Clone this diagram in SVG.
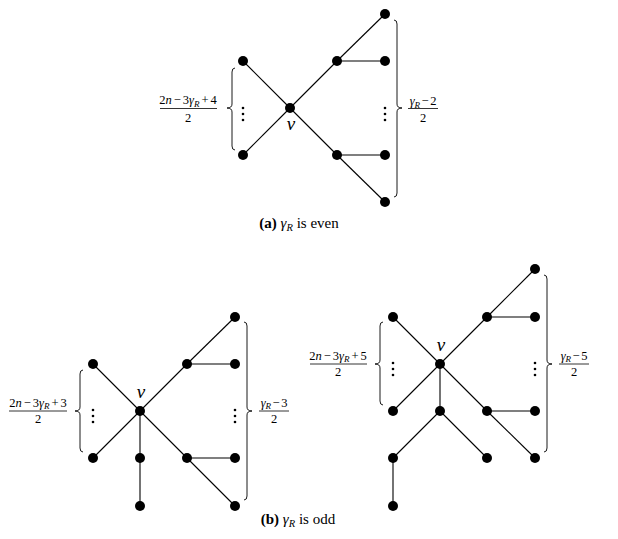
<svg xmlns="http://www.w3.org/2000/svg" width="618" height="539" viewBox="0 0 618 539">
<style>
.e{stroke:#000;stroke-width:1.1;fill:none}
.n{fill:#000}
.d{fill:#000}
.b{stroke:#000;stroke-width:0.9;fill:none}
.fl{stroke:#000;stroke-width:0.8}
text{font-family:"Liberation Serif","Times New Roman",serif;fill:#000}
.m{font-size:12.5px}
.v{font-size:19px;font-style:italic}
.c{font-size:15px}
.i{font-style:italic}
.s{font-style:italic;font-size:9px}
</style>
<rect width="618" height="539" fill="#fff"/>

<!-- ===== (a) ===== -->
<g id="edges-a">
<line class="e" x1="290" y1="108" x2="243" y2="61"/>
<line class="e" x1="290" y1="108" x2="243" y2="155"/>
<line class="e" x1="290" y1="108" x2="337" y2="61"/>
<line class="e" x1="290" y1="108" x2="337" y2="155"/>
<line class="e" x1="337" y1="61" x2="385" y2="14"/>
<line class="e" x1="337" y1="61" x2="385" y2="61"/>
<line class="e" x1="337" y1="155" x2="385" y2="155"/>
<line class="e" x1="337" y1="155" x2="385" y2="202"/>
</g>
<g id="a-v"><circle class="n" cx="290" cy="108" r="5"/><text class="v" x="291" y="130" text-anchor="middle">v</text></g>
<g id="a-l1"><circle class="n" cx="243" cy="61" r="5"/></g>
<g id="a-l2"><circle class="n" cx="243" cy="155" r="5"/></g>
<g id="a-m1"><circle class="n" cx="337" cy="61" r="5"/></g>
<g id="a-m2"><circle class="n" cx="337" cy="155" r="5"/></g>
<g id="a-r1"><circle class="n" cx="385" cy="14" r="5"/></g>
<g id="a-r2"><circle class="n" cx="385" cy="61" r="5"/></g>
<g id="a-r3"><circle class="n" cx="385" cy="155" r="5"/></g>
<g id="a-r4"><circle class="n" cx="385" cy="202" r="5"/></g>
<g id="a-dots">
<circle class="d" cx="243" cy="108" r="1.3"/><circle class="d" cx="243" cy="114" r="1.3"/><circle class="d" cx="243" cy="120" r="1.3"/>
<circle class="d" cx="385" cy="108" r="1.3"/><circle class="d" cx="385" cy="114" r="1.3"/><circle class="d" cx="385" cy="120" r="1.3"/>
</g>
<g id="a-braces">
<path class="b" d="M235,68 Q232,68 232,72 L232,104 Q232,108 227,108 Q232,108 232,112 L232,146 Q232,150 235,150"/>
<path class="b" d="M394,20 Q397,20 397,24 L397,104 Q397,108 402,108 Q397,108 397,112 L397,193 Q397,197 394,197"/>
</g>
<g id="a-labels">
<text class="m" x="188" y="104" text-anchor="middle">2<tspan class="i">n</tspan><tspan dx="2">−</tspan><tspan dx="2">3</tspan><tspan class="i">γ</tspan><tspan class="s" dy="2.5">R</tspan><tspan dy="-2.5" dx="2">+</tspan><tspan dx="2">4</tspan></text>
<line class="fl" x1="160" y1="108.5" x2="217" y2="108.5"/>
<text class="m" x="188" y="122" text-anchor="middle">2</text>
<text class="m" x="423" y="105" text-anchor="middle"><tspan class="i">γ</tspan><tspan class="s" dy="2.5">R</tspan><tspan dy="-2.5" dx="1.5">−</tspan><tspan dx="1.5">2</tspan></text>
<line class="fl" x1="408" y1="108.5" x2="438" y2="108.5"/>
<text class="m" x="423" y="122" text-anchor="middle">2</text>
<text class="c" x="299" y="228" text-anchor="middle"><tspan font-weight="bold">(a)</tspan> <tspan class="i">γ</tspan><tspan class="i" font-size="10.5" dy="3">R</tspan><tspan dy="-3"> is even</tspan></text>
</g>

<!-- ===== (b) left ===== -->
<g id="edges-b1">
<line class="e" x1="140" y1="411" x2="93" y2="364"/>
<line class="e" x1="140" y1="411" x2="93" y2="458"/>
<line class="e" x1="140" y1="411" x2="187" y2="364"/>
<line class="e" x1="140" y1="411" x2="187" y2="458"/>
<line class="e" x1="140" y1="411" x2="140" y2="458"/>
<line class="e" x1="140" y1="458" x2="140" y2="506"/>
<line class="e" x1="187" y1="364" x2="235" y2="317"/>
<line class="e" x1="187" y1="364" x2="235" y2="364"/>
<line class="e" x1="187" y1="458" x2="235" y2="458"/>
<line class="e" x1="187" y1="458" x2="235" y2="506"/>
</g>
<g id="b1-v"><circle class="n" cx="140" cy="411" r="5"/><text class="v" x="141" y="398" text-anchor="middle">v</text></g>
<g id="b1-l1"><circle class="n" cx="93" cy="364" r="5"/></g>
<g id="b1-l2"><circle class="n" cx="93" cy="458" r="5"/></g>
<g id="b1-c1"><circle class="n" cx="140" cy="458" r="5"/></g>
<g id="b1-c2"><circle class="n" cx="140" cy="506" r="5"/></g>
<g id="b1-m1"><circle class="n" cx="187" cy="364" r="5"/></g>
<g id="b1-m2"><circle class="n" cx="187" cy="458" r="5"/></g>
<g id="b1-r1"><circle class="n" cx="235" cy="317" r="5"/></g>
<g id="b1-r2"><circle class="n" cx="235" cy="364" r="5"/></g>
<g id="b1-r3"><circle class="n" cx="235" cy="458" r="5"/></g>
<g id="b1-r4"><circle class="n" cx="235" cy="506" r="5"/></g>
<g id="b1-dots">
<circle class="d" cx="93" cy="410" r="1.3"/><circle class="d" cx="93" cy="416" r="1.3"/><circle class="d" cx="93" cy="422" r="1.3"/>
<circle class="d" cx="235" cy="410" r="1.3"/><circle class="d" cx="235" cy="416" r="1.3"/><circle class="d" cx="235" cy="422" r="1.3"/>
</g>
<g id="b1-braces">
<path class="b" d="M83,370 Q80,370 80,374 L80,407 Q80,411 75,411 Q80,411 80,415 L80,448 Q80,452 83,452"/>
<path class="b" d="M244,322 Q247,322 247,326 L247,407 Q247,411 252,411 Q247,411 247,415 L247,496 Q247,500 244,500"/>
</g>
<g id="b1-labels">
<text class="m" x="38" y="406.5" text-anchor="middle">2<tspan class="i">n</tspan><tspan dx="2">−</tspan><tspan dx="2">3</tspan><tspan class="i">γ</tspan><tspan class="s" dy="2.5">R</tspan><tspan dy="-2.5" dx="2">+</tspan><tspan dx="2">3</tspan></text>
<line class="fl" x1="9" y1="411" x2="67" y2="411"/>
<text class="m" x="38" y="423" text-anchor="middle">2</text>
<text class="m" x="274" y="406.5" text-anchor="middle"><tspan class="i">γ</tspan><tspan class="s" dy="2.5">R</tspan><tspan dy="-2.5" dx="1.5">−</tspan><tspan dx="1.5">3</tspan></text>
<line class="fl" x1="259" y1="411" x2="289" y2="411"/>
<text class="m" x="274" y="423" text-anchor="middle">2</text>
</g>

<!-- ===== (b) right ===== -->
<g id="edges-b2">
<line class="e" x1="440" y1="364" x2="393" y2="317"/>
<line class="e" x1="440" y1="364" x2="393" y2="411"/>
<line class="e" x1="440" y1="364" x2="487" y2="317"/>
<line class="e" x1="440" y1="364" x2="487" y2="411"/>
<line class="e" x1="440" y1="364" x2="440" y2="411"/>
<line class="e" x1="487" y1="317" x2="535" y2="269"/>
<line class="e" x1="487" y1="317" x2="535" y2="317"/>
<line class="e" x1="487" y1="411" x2="535" y2="411"/>
<line class="e" x1="487" y1="411" x2="535" y2="458"/>
<line class="e" x1="440" y1="411" x2="393" y2="458"/>
<line class="e" x1="440" y1="411" x2="487" y2="458"/>
<line class="e" x1="393" y1="458" x2="393" y2="506"/>
</g>
<g id="b2-v"><circle class="n" cx="440" cy="364" r="5"/><text class="v" x="441" y="351" text-anchor="middle">v</text></g>
<g id="b2-l1"><circle class="n" cx="393" cy="317" r="5"/></g>
<g id="b2-l2"><circle class="n" cx="393" cy="411" r="5"/></g>
<g id="b2-c1"><circle class="n" cx="440" cy="411" r="5"/></g>
<g id="b2-c2"><circle class="n" cx="393" cy="458" r="5"/></g>
<g id="b2-c3"><circle class="n" cx="393" cy="506" r="5"/></g>
<g id="b2-c4"><circle class="n" cx="487" cy="458" r="5"/></g>
<g id="b2-m1"><circle class="n" cx="487" cy="317" r="5"/></g>
<g id="b2-m2"><circle class="n" cx="487" cy="411" r="5"/></g>
<g id="b2-r1"><circle class="n" cx="535" cy="269" r="5"/></g>
<g id="b2-r2"><circle class="n" cx="535" cy="317" r="5"/></g>
<g id="b2-r3"><circle class="n" cx="535" cy="411" r="5"/></g>
<g id="b2-r4"><circle class="n" cx="535" cy="458" r="5"/></g>
<g id="b2-dots">
<circle class="d" cx="393" cy="363" r="1.3"/><circle class="d" cx="393" cy="369" r="1.3"/><circle class="d" cx="393" cy="375" r="1.3"/>
<circle class="d" cx="535" cy="363" r="1.3"/><circle class="d" cx="535" cy="369" r="1.3"/><circle class="d" cx="535" cy="375" r="1.3"/>
</g>
<g id="b2-braces">
<path class="b" d="M383,322 Q380,322 380,326 L380,360 Q380,364 375,364 Q380,364 380,368 L380,401 Q380,405 383,405"/>
<path class="b" d="M544,275 Q547,275 547,279 L547,360 Q547,364 552,364 Q547,364 547,368 L547,448 Q547,452 544,452"/>
</g>
<g id="b2-labels">
<text class="m" x="338" y="359.5" text-anchor="middle">2<tspan class="i">n</tspan><tspan dx="2">−</tspan><tspan dx="2">3</tspan><tspan class="i">γ</tspan><tspan class="s" dy="2.5">R</tspan><tspan dy="-2.5" dx="2">+</tspan><tspan dx="2">5</tspan></text>
<line class="fl" x1="310" y1="364" x2="367" y2="364"/>
<text class="m" x="338" y="376" text-anchor="middle">2</text>
<text class="m" x="574" y="359.5" text-anchor="middle"><tspan class="i">γ</tspan><tspan class="s" dy="2.5">R</tspan><tspan dy="-2.5" dx="1.5">−</tspan><tspan dx="1.5">5</tspan></text>
<line class="fl" x1="559" y1="364" x2="589" y2="364"/>
<text class="m" x="574" y="376" text-anchor="middle">2</text>
</g>

<text class="c" x="298" y="524" text-anchor="middle"><tspan font-weight="bold">(b)</tspan> <tspan class="i">γ</tspan><tspan class="i" font-size="10.5" dy="3">R</tspan><tspan dy="-3"> is odd</tspan></text>
</svg>
